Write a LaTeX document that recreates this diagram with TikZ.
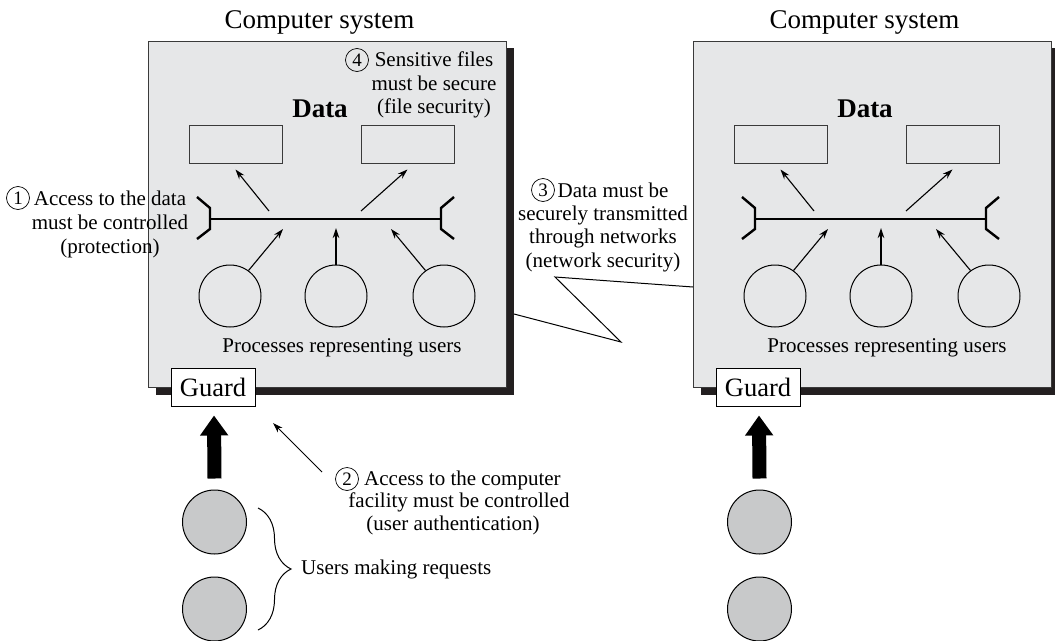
\documentclass[tikz,border=0pt]{standalone}
\usepackage{fontspec}
\setmainfont{Liberation Serif}
\usetikzlibrary{arrows.meta,decorations.pathreplacing,calc}
\definecolor{boxgray}{HTML}{E6E7E8}
\definecolor{shadow}{HTML}{231F20}
\definecolor{usergray}{HTML}{C8C9CA}
\definecolor{edge}{HTML}{3A3A3A}
\begin{document}
\begin{tikzpicture}[x=1pt,y=-1pt,
  lbl/.style={font=\fontsize{21}{24}\selectfont, inner sep=0pt, anchor=base},
  big/.style={font=\fontsize{27}{30}\selectfont, inner sep=0pt, anchor=base},
  num/.style={circle,draw,line width=0.7pt,inner sep=0pt,minimum size=23pt,font=\fontsize{19}{19}\selectfont},
  arr/.style={-{Stealth[length=10pt,width=6.5pt]}, line width=1.1pt},
  databox/.style={draw=edge,line width=1pt,minimum width=93pt,minimum height=38pt,inner sep=0pt},
  proc/.style={circle,draw,line width=1pt,minimum size=62pt,inner sep=0pt},
  user/.style={circle,draw,fill=usergray,line width=1pt,minimum size=64pt,inner sep=0pt},
  guardbox/.style={draw,fill=white,line width=1pt,minimum width=84pt,minimum height=38pt,inner sep=0pt,font=\fontsize{26.5}{28}\selectfont},
  bus/.style={line width=2.4pt},
  bigarrow/.style={line width=14pt,-{Triangle[length=20pt,width=27pt]}}
]
\useasboundingbox (0,0) rectangle (1055,640);

\foreach \s/\n in {0/L,545/R}{
\begin{scope}[xshift=\s pt]
  % shadow and box
  \fill[shadow] (156,48) rectangle (514,395);
  \node[draw=edge,fill=boxgray,line width=1pt,minimum width=358pt,minimum height=346pt,inner sep=0pt] (sys\n) at (327,214) {};
  \node[big] (title\n) at (319.5,28) {Computer system};
  \node[big,font=\fontsize{27}{30}\selectfont\bfseries] (data\n) at (320,117) {Data};
  % data files
  \node[databox] (f1\n) at (235.5,144) {};
  \node[databox] (f2\n) at (408,144) {};
  % bus with brackets
  \coordinate (bl\n) at (210,219);
  \coordinate (br\n) at (441,219);
  \draw[bus] (bl\n) -- (br\n);
  \draw[bus] (197,197) -- (210,208) -- (210,229) -- (197,239);
  \draw[bus] (454,197) -- (441,208) -- (441,229) -- (454,239);
  % arrows from bus to files
  \coordinate (a1\n) at (269,211);
  \coordinate (a2\n) at (361,211);
  \draw[arr] (a1\n) -- ($(f1\n.south)+(0,6)$);
  \draw[arr] (a2\n) -- ($(f2\n.south)+(-0.5,6)$);
  % processes
  \node[proc] (p1\n) at (230,296) {};
  \node[proc] (p2\n) at (336,296) {};
  \node[proc] (p3\n) at (444,296) {};
  \coordinate (b1\n) at (283,229);
  \coordinate (b2\n) at (336,228);
  \coordinate (b3\n) at (391,229);
  \draw[arr] (p1\n.54) -- (b1\n);
  \draw[arr] (p2\n.north) -- (b2\n);
  \draw[arr] (p3\n.126) -- (b3\n);
  \node[lbl] (proclbl\n) at (342,352) {Processes representing users};
  % guard
  \node[guardbox] (g\n) at (213,387) {Guard};
  % users
  \node[user] (u1\n) at (214.5,522) {};
  \node[user] (u2\n) at (214.5,609) {};
  \draw[bigarrow] ($(u1\n.north)+(0,-11)$) -- ($(g\n.south)+(1,9)$);
\end{scope}
}

% brace and users label
\coordinate (brt) at (258,508);
\coordinate (brb) at (258,630);
\draw[line width=1pt,decorate,decoration={brace,amplitude=33pt,aspect=0.5}] (brt) -- (brb);
\node[lbl,anchor=west] (userslbl) at (301,569) {Users making requests};

% label 1
\node[num] (n1) at (18,198) {1};
\node[lbl] (l1a) at (110,205) {Access to the data};
\node[lbl] (l1b) at (110,229) {must be controlled};
\node[lbl] (l1c) at (110,253) {(protection)};

% label 4
\node[num] (n4) at (357,60) {4};
\node[lbl] (l4a) at (434,66) {Sensitive files};
\node[lbl] (l4b) at (434,90) {must be secure};
\node[lbl] (l4c) at (434,113) {(file security)};

% label 3
\node[num] (n3) at (543,190) {3};
\node[lbl] (l3a) at (613,197) {Data must be};
\node[lbl] (l3b) at (603,220) {securely transmitted};
\node[lbl] (l3c) at (603,243.5) {through networks};
\node[lbl] (l3d) at (603,267) {(network security)};
\coordinate (cD) at (514,314);
\coordinate (cC) at (621,342);
\coordinate (cA) at (555,277);
\coordinate (cB) at (693,287);
\draw[line width=1pt] (cD) -- (cC) -- (cA) -- (cB);

% label 2
\node[num] (n2) at (347,479) {2};
\node[lbl,anchor=base west] (l2a) at (364,485) {Access to the computer};
\node[lbl] (l2b) at (459,507) {facility must be controlled};
\node[lbl] (l2c) at (453,530) {(user authentication)};
\coordinate (l2arr) at (322,472);
\coordinate (l2tip) at (273,423);
\draw[-{Stealth[length=10pt,width=6.5pt]},line width=1pt] (l2arr) -- (l2tip);
\end{tikzpicture}
\end{document}
